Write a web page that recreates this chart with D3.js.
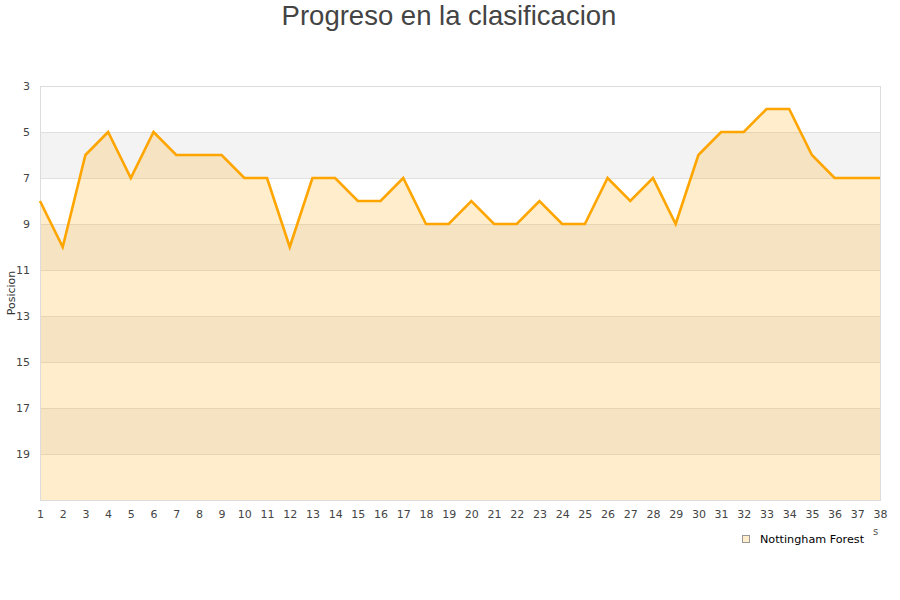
<!DOCTYPE html>
<html><head><meta charset="utf-8">
<script src="https://cdn.jsdelivr.net/npm/d3@7"></script>
<style>body{margin:0;background:#fff}</style>
</head><body>
<svg id="c" width="900" height="600"></svg>
<script>
const jornadas = d3.range(1, 39);
const posiciones = [8,10,6,5,7,5,6,6,6,7,7,10,7,7,8,8,7,9,9,8,9,9,8,9,9,7,8,7,9,6,5,5,4,4,6,7,7,7];
const yTicks = [3,5,7,9,11,13,15,17,19];
const bandas = [[5,7],[9,11],[13,15],[17,19]];
const equipo = "Nottingham Forest";
const titulo = "Progreso en la clasificacion";

const svg = d3.select("#c");
const m = {l:40, r:880, t:86, b:500};
const x = d3.scaleLinear().domain([1,38]).range([m.l, m.r]);
const y = d3.scaleLinear().domain([3,21]).range([m.t, m.b]);

svg.append("text").attr("x",449).attr("y",25).attr("text-anchor","middle")
  .attr("font-family","Liberation Sans, Arial, sans-serif").attr("font-size",27.5)
  .attr("fill","#444").text(titulo);

svg.selectAll("rect.band").data(bandas).enter().append("rect")
  .attr("x",m.l).attr("width",m.r-m.l)
  .attr("y",d=>y(d[0])).attr("height",d=>y(d[1])-y(d[0]))
  .attr("fill","#f3f3f3");

svg.selectAll("line.grid").data(yTicks).enter().append("line")
  .attr("x1",m.l).attr("x2",m.r).attr("y1",d=>y(d)+0.5).attr("y2",d=>y(d)+0.5)
  .attr("stroke","#e0e0e0").attr("stroke-width",1);

const area = d3.area().x((d,i)=>x(jornadas[i])).y0(y(21)).y1(d=>y(d));
svg.append("path").datum(posiciones).attr("d",area)
  .attr("fill","rgba(255,165,0,0.2)");

svg.append("rect").attr("x",m.l+0.5).attr("y",m.t+0.5)
  .attr("width",m.r-m.l).attr("height",m.b-m.t)
  .attr("fill","none").attr("stroke","#dcdcdc");

const line = d3.line().x((d,i)=>x(jornadas[i])).y(d=>y(d));
svg.append("path").datum(posiciones).attr("d",line)
  .attr("fill","none").attr("stroke","#ffa500").attr("stroke-width",2.6)
  .attr("stroke-linejoin","miter");

const font = "DejaVu Sans, sans-serif";
const yAxis = svg.append("g").attr("transform",`translate(${m.l},0)`)
  .call(d3.axisLeft(y).tickValues(yTicks).tickSize(0).tickPadding(10));
yAxis.select(".domain").remove();
yAxis.selectAll("text").attr("font-family",font).attr("font-size",11).attr("fill","#444");

const xAxis = svg.append("g").attr("transform",`translate(0,${m.b})`)
  .call(d3.axisBottom(x).tickValues(jornadas).tickFormat(d3.format("d")).tickSize(0).tickPadding(10));
xAxis.select(".domain").remove();
xAxis.selectAll("text").attr("font-family",font).attr("font-size",11).attr("fill","#444");

svg.append("text").attr("transform","translate(15,293) rotate(-90)")
  .attr("text-anchor","middle").attr("font-family",font).attr("font-size",11)
  .attr("fill","#333").text("Posicion");

svg.append("text").attr("x",873).attr("y",535).attr("font-family",font)
  .attr("font-size",10).attr("fill","#555").text("s");

svg.append("rect").attr("x",742.5).attr("y",535.5).attr("width",7).attr("height",7)
  .attr("fill","#ffedcc").attr("stroke","#999");
svg.append("text").attr("x",760).attr("y",543).attr("font-family",font)
  .attr("font-size",11.2).attr("fill","#000").text(equipo);
</script>
</body></html>
